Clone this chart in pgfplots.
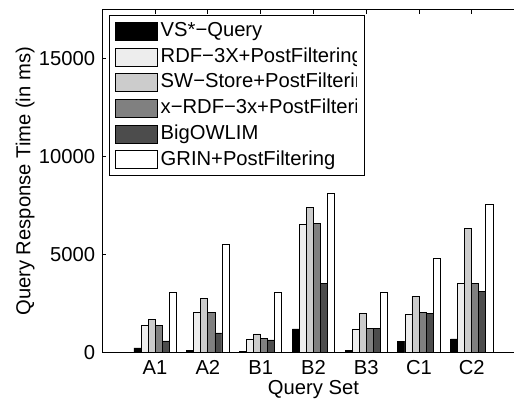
\documentclass[border=0pt]{standalone}
\usepackage{fontspec}
\setmainfont{Liberation Sans}
\usepackage{pgfplots}
\pgfplotsset{compat=1.18}
\pgfplotsset{lg/.style={legend image code/.code={\draw[##1,line width=0.4pt] (0pt,-4.5pt) rectangle (21pt,4.5pt);}}}
\newcommand{\cl}[1]{\tikz[baseline=0pt]{\clip (0pt,-3pt) rectangle (98pt,9pt); \node[anchor=base west,inner sep=0pt,text height=,text depth=] at (0pt,0pt) {#1};}}
\definecolor{cA}{gray}{0.93}
\definecolor{cB}{gray}{0.80}
\definecolor{cC}{gray}{0.50}
\definecolor{cD}{gray}{0.30}
\pgfplotstableread{
x vs rdf sw xrdf big grin
1 241 1383 1675 1383 599 3094
2 123 2034 2787 2070 1009 5518
3 51 702 958 738 651 3094
4 1214 6542 7428 6578 3535 8130
5 123 1214 1998 1230 1230 3094
6 584 1947 2889 2034 2018 4836
7 702 3520 6337 3520 3110 7567
}\data
\begin{document}
\fontsize{10.1}{12}\selectfont
\begin{tikzpicture}
\begin{axis}[
  at={(0,0)}, anchor=south west, scale only axis,
  width=211.15pt, height=171.35pt,
  xmin=0, xmax=8, ymin=0, ymax=17500,
  ybar=0pt, bar width=3.52pt,
  xtick={1,...,7}, xticklabels={A1,A2,B1,B2,B3,C1,C2},
  ytick={0,5000,10000,15000},
  scaled y ticks=false,
  yticklabel style={/pgf/number format/.cd, fixed, 1000 sep={}, assume math mode=true},
  xticklabel style={yshift=-1.5pt, inner ysep=2pt, text height=7.3pt, text depth=0pt},
  tick align=inside, major tick length=2pt,
  tick style={black, line width=0.5pt},
  axis line style={line width=0.5pt},
  xlabel={Query Set},
  ylabel={Query Response Time (in ms)},
  every axis x label/.style={at={([yshift=-18.6pt]axis description cs:0.5,0)}, anchor=center},
  every axis y label/.style={at={([xshift=-38.6pt]axis description cs:0,0.5)}, anchor=center, rotate=90},
  legend style={at={(axis description cs:0.0159,0.985)}, anchor=north west,
    draw=black, line width=0.5pt, fill=white, inner xsep=2.5pt, inner ysep=1.4pt,
    nodes={inner xsep=1.5pt, inner ysep=1.73pt, text height=7.3pt, text depth=2.1pt}, row sep=0pt},
  legend cell align=left,
]
\addplot[lg, fill=black, draw=black, line width=0.4pt] table[x=x,y=vs]{\data};
\addplot[lg, fill=cA, draw=black, line width=0.4pt] table[x=x,y=rdf]{\data};
\addplot[lg, fill=cB, draw=black, line width=0.4pt] table[x=x,y=sw]{\data};
\addplot[lg, fill=cC, draw=black, line width=0.4pt] table[x=x,y=xrdf]{\data};
\addplot[lg, fill=cD, draw=black, line width=0.4pt] table[x=x,y=big]{\data};
\addplot[lg, fill=white, draw=black, line width=0.4pt] table[x=x,y=grin]{\data};
\legend{\cl{VS*−Query}, \cl{RDF−3X+PostFiltering}, \cl{SW−Store+PostFiltering}, \cl{x−RDF−3x+PostFiltering}, \cl{BigOWLIM}, \cl{GRIN+PostFiltering}}
\end{axis}
\pgfresetboundingbox
\useasboundingbox (-51.15pt,-24.15pt) rectangle (205.85pt,176.35pt);
\end{tikzpicture}
\end{document}
